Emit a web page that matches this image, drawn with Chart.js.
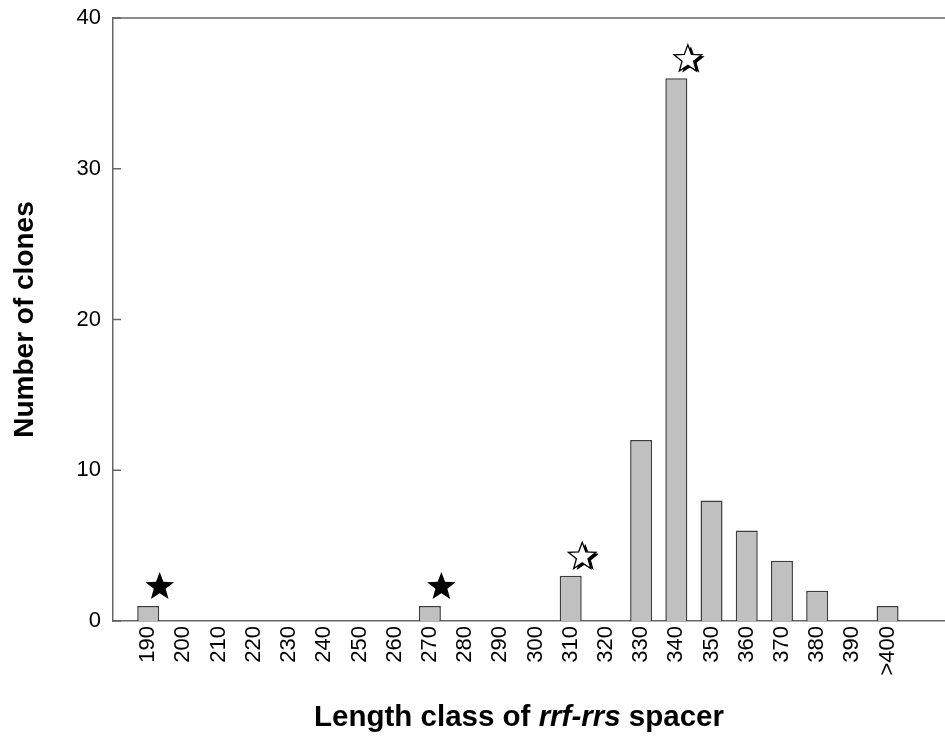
<!DOCTYPE html>
<html>
<head>
<meta charset="utf-8">
<script src="https://cdn.jsdelivr.net/npm/chart.js@4.4.1/dist/chart.umd.min.js"></script>
<style>
  html, body { margin: 0; padding: 0; background: #fff; overflow: hidden; }
  #wrap { width: 945px; height: 746px; overflow: hidden; }
</style>
</head>
<body>
<div id="wrap"><canvas id="chart" width="960" height="746"></canvas></div>
<script>
// length classes (bp) and clone counts
const CATEGORIES = ['190', '200', '210', '220', '230', '240', '250', '260', '270', '280', '290',
  '300', '310', '320', '330', '340', '350', '360', '370', '380', '390', '>400'];
const CLONES = [1, 0, 0, 0, 0, 0, 0, 0, 1, 0, 0, 0, 3, 0, 12, 36, 8, 6, 4, 2, 0, 1];
const Y_TICKS = [0, 10, 20, 30, 40];

// marked classes
const STAR_CLASSES = ['190', '270', '310', '340'];
const STAR_FILLED = [true, true, false, false];

// axis has one empty slot before 190 and two after >400
const labels = [''].concat(CATEGORIES, ['', '']);
const values = [null].concat(CLONES, [null, null]);

const AXIS_COLOR = '#666';
const FONT = 'Arial, "Liberation Sans", Helvetica, sans-serif';

function starPath(ctx, cx, cy, R) {
  const r = R * 0.42;
  ctx.beginPath();
  for (let i = 0; i < 10; i++) {
    const rad = i % 2 === 0 ? R : r;
    const a = -Math.PI / 2 + i * Math.PI / 5;
    const px = cx + rad * Math.cos(a), py = cy + rad * Math.sin(a);
    if (i === 0) ctx.moveTo(px, py); else ctx.lineTo(px, py);
  }
  ctx.closePath();
}

const extras = {
  id: 'extras',
  afterDraw(chart) {
    const ctx = chart.ctx;
    const area = chart.chartArea;
    const xs = chart.scales.x, ys = chart.scales.y;
    ctx.save();
    // top frame line
    ctx.strokeStyle = AXIS_COLOR;
    ctx.lineWidth = 1.5;
    ctx.beginPath();
    ctx.moveTo(area.left, area.top);
    ctx.lineTo(area.right, area.top);
    ctx.stroke();
    // inward y ticks
    Y_TICKS.forEach(v => {
      const y = ys.getPixelForValue(v);
      ctx.beginPath();
      ctx.moveTo(area.left, y);
      ctx.lineTo(area.left + 8, y);
      ctx.stroke();
    });
    // stars
    STAR_CLASSES.forEach((c, i) => {
      const idx = labels.indexOf(c);
      const cx = xs.getPixelForValue(idx) + 11.5;
      const cy = ys.getPixelForValue(values[idx]) - 19;
      if (STAR_FILLED[i]) {
        ctx.fillStyle = '#000';
        starPath(ctx, cx, cy, 15);
        ctx.fill();
      } else {
        ctx.fillStyle = '#000';
        starPath(ctx, cx + 3, cy + 1.5, 14.5);
        ctx.fill();
        ctx.fillStyle = '#fff';
        ctx.strokeStyle = '#000';
        ctx.lineWidth = 1.3;
        starPath(ctx, cx, cy, 14.5);
        ctx.fill();
        ctx.stroke();
      }
    });
    // x title with italic part
    const parts = [
      { t: 'Length class of ', f: 'bold 29.5px ' + FONT },
      { t: 'rrf-rrs', f: 'italic bold 29.5px ' + FONT },
      { t: ' spacer', f: 'bold 29.5px ' + FONT }
    ];
    let total = 0;
    parts.forEach(p => { ctx.font = p.f; p.w = ctx.measureText(p.t).width; total += p.w; });
    let x = 519 - total / 2;
    ctx.fillStyle = '#000';
    ctx.textBaseline = 'alphabetic';
    ctx.textAlign = 'left';
    parts.forEach(p => { ctx.font = p.f; ctx.fillText(p.t, x, 726); x += p.w; });
    ctx.restore();
  }
};

new Chart(document.getElementById('chart'), {
  type: 'bar',
  data: {
    labels: labels,
    datasets: [{
      data: values,
      backgroundColor: '#c0c0c0',
      borderColor: '#3c3c3c',
      borderWidth: 1.5,
      barPercentage: 0.625,
      categoryPercentage: 1
    }]
  },
  options: {
    responsive: false,
    animation: false,
    devicePixelRatio: 1,
    layout: { padding: { top: 18, right: 2, left: 0, bottom: 0 } },
    plugins: { legend: { display: false }, tooltip: { enabled: false } },
    scales: {
      x: {
        offset: false,
        grid: { display: false, drawTicks: false },
        border: { display: true, color: AXIS_COLOR, width: 1.5 },
        ticks: {
          color: '#000', font: { family: FONT, size: 22 },
          minRotation: 90, maxRotation: 90, autoSkip: false, padding: 5
        },
        afterFit(scale) {
          scale.height = 125;
          scale.paddingLeft = 0;
          scale.paddingRight = 0;
        }
      },
      y: {
        min: 0, max: 40,
        grid: { display: false, drawTicks: false },
        border: { display: true, color: AXIS_COLOR, width: 1.5 },
        ticks: {
          stepSize: 10, color: '#000', font: { family: FONT, size: 22 }, padding: 12
        },
        title: {
          display: true, text: 'Number of clones', color: '#000',
          font: { family: FONT, size: 28, weight: 'bold', lineHeight: 1.2 },
          padding: { top: 8, bottom: 0 }
        },
        afterFit(scale) {
          scale.width = 113;
          scale.paddingTop = 0;
          scale.paddingBottom = 0;
        }
      }
    }
  },
  plugins: [extras]
});
</script>
</body>
</html>
